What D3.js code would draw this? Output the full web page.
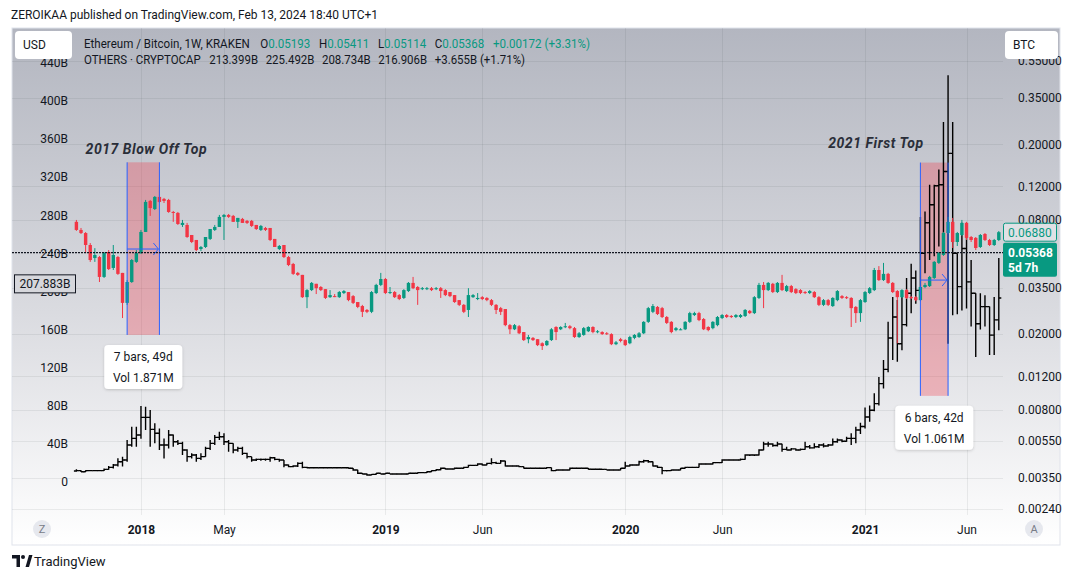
<!DOCTYPE html>
<html><head><meta charset="utf-8">
<script src="https://cdn.jsdelivr.net/npm/d3@7"></script>
<style>
html,body{margin:0;padding:0;background:#fff;}
svg{display:block;font-family:Roboto,"Noto Sans",sans-serif;}
</style></head><body>
<svg id="c" width="1072" height="579"></svg>
<script>
// ---------------- DATA ----------------
const startWeek = "2017-09-25"; // first weekly bar
const ethOpen = [
.0780,.0707,.0681,.0589,.0503,.0509,.0400,.0541,.0446,.0509,
.0420,.0292,.0376,.0480,.0534,.0690,.1005,.0911,.1055,.1030,
.1017,.0879,.0869,.0751,.0751,.0665,.0626,.0561,.0575,.0634,
.0707,.0733,.0828,.0848,.0838,.0780,.0808,.0789,.0789,.0751,
.0707,.0724,.0724,.0634,.0561,.0589,.0509,.0468,.0420,.0410,
.0313,.0341,.0368,.0354,.0345,.0313,.0317,.0313,.0329,.0333,
.0317,.0295,.0281,.0268,.0262,.0329,.0363,.0390,.0329,.0333,
.0321,.0310,.0337,.0372,.0354,.0345,.0345,.0349,.0345,.0349,
.0341,.0333,.0321,.0302,.0285,.0268,.0313,.0306,.0313,.0310,
.0302,.0285,.0274,.0271,.0223,.0212,.0220,.0205,.0188,.0191,
.0188,.0179,.0175,.0186,.0218,.0212,.0218,.0220,.0215,.0193,
.0198,.0207,.0218,.0205,.0205,.0202,.0200,.0177,.0188,.0186,
.0179,.0191,.0193,.0202,.0232,.0262,.0278,.0274,.0246,.0232,
.0210,.0212,.0212,.0232,.0252,.0258,.0240,.0218,.0215,.0223,
.0243,.0252,.0249,.0246,.0246,.0249,.0265,.0258,.0310,.0363,
.0341,.0368,.0333,.0372,.0337,.0358,.0345,.0341,.0333,.0329,
.0333,.0313,.0285,.0302,.0281,.0302,.0317,.0313,.0310,.0278,
.0258,.0295,.0329,.0341,.0435,.0385,.0415,.0372,.0337,.0313,
.0341,.0313,.0313,.0302,.0354,.0358,.0395,.0474,.0522,.0681,
.0780,.0611,.0665,.0770,.0649,.0642,.0575,.0673,.0626,.0589,
.0626];
const ethHigh = [
.0798,.0724,.0689,.0603,.0567,.0516,.0541,.0554,.0589,.0516,
.0420,.0385,.0497,.0554,.0707,.1017,.1017,.1067,.1220,.1042,
.1030,.0890,.0879,.0798,.0770,.0665,.0626,.0582,.0649,.0715,
.0751,.0848,.0858,.0858,.0848,.0818,.0818,.0798,.0798,.0751,
.0751,.0733,.0724,.0634,.0589,.0589,.0516,.0474,.0425,.0410,
.0345,.0376,.0368,.0358,.0345,.0341,.0325,.0337,.0341,.0333,
.0321,.0295,.0285,.0271,.0337,.0368,.0420,.0395,.0354,.0337,
.0325,.0345,.0376,.0400,.0358,.0354,.0354,.0354,.0354,.0354,
.0345,.0333,.0321,.0302,.0288,.0349,.0325,.0329,.0317,.0313,
.0306,.0288,.0278,.0271,.0226,.0226,.0223,.0205,.0198,.0193,
.0188,.0181,.0186,.0215,.0220,.0220,.0229,.0223,.0218,.0205,
.0218,.0220,.0220,.0210,.0207,.0205,.0202,.0184,.0191,.0188,
.0196,.0200,.0205,.0234,.0278,.0288,.0281,.0278,.0249,.0234,
.0218,.0215,.0234,.0262,.0262,.0262,.0243,.0220,.0234,.0249,
.0255,.0255,.0252,.0255,.0255,.0271,.0268,.0317,.0372,.0376,
.0376,.0372,.0376,.0410,.0363,.0363,.0349,.0345,.0337,.0341,
.0337,.0317,.0306,.0306,.0313,.0341,.0321,.0317,.0313,.0281,
.0306,.0337,.0354,.0446,.0456,.0474,.0420,.0376,.0341,.0345,
.0345,.0317,.0317,.0358,.0372,.0405,.0485,.0541,.0690,.0828,
.0818,.0690,.0798,.0780,.0657,.0649,.0673,.0681,.0634,.0634,
.0698];
const ethLow = [
.0699,.0673,.0534,.0480,.0480,.0376,.0395,.0435,.0435,.0410,
.0243,.0285,.0372,.0474,.0528,.0690,.0838,.0900,.0980,.0980,
.0870,.0780,.0751,.0733,.0642,.0603,.0547,.0547,.0568,.0626,
.0698,.0733,.0626,.0818,.0780,.0724,.0770,.0760,.0733,.0707,
.0698,.0698,.0618,.0575,.0554,.0503,.0456,.0410,.0405,.0310,
.0274,.0337,.0325,.0337,.0306,.0310,.0313,.0310,.0325,.0298,
.0288,.0274,.0246,.0258,.0258,.0325,.0358,.0325,.0325,.0310,
.0302,.0306,.0333,.0345,.0285,.0341,.0341,.0337,.0341,.0310,
.0317,.0313,.0292,.0281,.0258,.0246,.0310,.0302,.0302,.0298,
.0281,.0255,.0252,.0220,.0200,.0210,.0200,.0184,.0179,.0184,
.0173,.0165,.0173,.0184,.0186,.0210,.0215,.0212,.0191,.0191,
.0196,.0205,.0202,.0202,.0198,.0198,.0175,.0175,.0181,.0173,
.0177,.0188,.0191,.0200,.0229,.0258,.0252,.0243,.0226,.0202,
.0207,.0210,.0210,.0229,.0249,.0234,.0210,.0207,.0212,.0220,
.0240,.0243,.0243,.0243,.0243,.0246,.0255,.0255,.0306,.0274,
.0337,.0329,.0329,.0337,.0333,.0329,.0325,.0325,.0325,.0325,
.0310,.0281,.0281,.0281,.0278,.0298,.0306,.0306,.0218,.0229,
.0232,.0292,.0325,.0337,.0381,.0381,.0368,.0329,.0179,.0310,
.0306,.0306,.0298,.0298,.0349,.0354,.0390,.0468,.0516,.0673,
.0568,.0582,.0657,.0626,.0611,.0554,.0568,.0618,.0582,.0582,
.0618];
const ethClose = [
.0707,.0681,.0589,.0491,.0522,.0400,.0534,.0440,.0522,.0415,
.0292,.0376,.0491,.0534,.0690,.0993,.0922,.1055,.0993,.1005,
.0879,.0869,.0760,.0770,.0649,.0611,.0554,.0575,.0649,.0715,
.0733,.0828,.0848,.0828,.0780,.0818,.0770,.0770,.0742,.0715,
.0742,.0707,.0626,.0575,.0582,.0509,.0462,.0415,.0410,.0313,
.0341,.0372,.0349,.0341,.0310,.0321,.0316,.0333,.0337,.0302,
.0292,.0278,.0262,.0262,.0333,.0363,.0390,.0329,.0333,.0313,
.0306,.0341,.0372,.0349,.0341,.0349,.0349,.0341,.0349,.0337,
.0321,.0317,.0295,.0285,.0262,.0321,.0321,.0310,.0306,.0302,
.0285,.0268,.0262,.0223,.0212,.0223,.0202,.0186,.0193,.0186,
.0175,.0173,.0184,.0212,.0205,.0218,.0220,.0215,.0193,.0202,
.0215,.0218,.0205,.0207,.0200,.0200,.0177,.0181,.0184,.0175,
.0193,.0198,.0202,.0232,.0274,.0281,.0255,.0246,.0229,.0205,
.0215,.0212,.0232,.0258,.0258,.0237,.0212,.0210,.0232,.0246,
.0252,.0246,.0246,.0252,.0252,.0268,.0258,.0313,.0363,.0341,
.0372,.0333,.0372,.0341,.0358,.0333,.0329,.0329,.0329,.0337,
.0313,.0285,.0302,.0285,.0310,.0337,.0310,.0310,.0274,.0258,
.0302,.0333,.0349,.0435,.0385,.0415,.0372,.0333,.0313,.0341,
.0310,.0310,.0302,.0354,.0363,.0400,.0480,.0534,.0681,.0780,
.0611,.0681,.0770,.0642,.0626,.0568,.0665,.0626,.0589,.0626,
.0688];

// OTHERS (billions USD), weekly OHLC
const othOpen = [
11.2,11.6,10.5,11.6,11.6,11.6,11.6,13.0,15.1,17.5,
21.0,22.8,38.5,45.5,49.0,67.6,67.6,55.0,50.9,38.5,
38.5,49.0,42.0,40.3,33.3,26.3,28.0,24.5,26.3,35.0,
40.3,46.6,47.3,42.0,40.3,33.3,35.0,29.8,26.3,22.8,
23.5,23.5,23.5,25.2,23.5,22.8,17.5,15.8,16.5,19.3,
15.1,14.7,14.7,14.7,14.7,14.7,14.7,14.7,14.7,14.7,
14.1,12.3,8.8,8.1,7.0,7.7,8.8,8.1,8.8,8.1,
8.1,8.1,8.1,8.8,8.8,9.5,9.5,10.5,11.6,12.5,
14.1,13.4,13.4,14.1,14.1,15.1,17.2,17.2,18.6,17.5,
19.3,20.0,19.3,21.8,16.5,16.5,16.5,15.8,14.1,14.1,
14.1,14.1,14.1,14.8,11.6,12.3,12.3,12.3,14.1,14.1,
14.1,14.1,13.1,13.1,13.1,13.0,12.3,12.3,12.3,14.1,
16.5,17.5,17.5,21.0,22.0,21.0,16.5,15.1,11.6,11.6,
12.3,12.3,14.1,15.1,15.1,15.1,18.6,18.6,18.6,20.0,
20.0,22.8,22.8,22.8,22.8,23.5,28.0,28.0,28.0,33.3,
39.6,39.6,38.0,39.6,34.0,33.3,34.5,33.3,34.0,36.8,
35.5,36.8,38.5,37.5,38.5,42.0,43.8,42.5,45.5,45.5,
54.3,58.0,68.0,75.0,82.0,103,118,151,173,145,
165,198,214,201,240,272,291,311,312,326,
345,240,205,245,210,198,166,184,184,154,
170];
const othHigh = [
13.0,12.0,12.0,12.3,12.3,12.3,14.0,16.5,18.6,24.6,
26.3,43.8,57.8,57.8,79.5,78.8,75.3,61.4,56.0,45.5,
54.3,49.5,43.8,42.0,34.0,29.8,29.0,29.8,36.8,43.8,
49.0,52.6,50.9,43.8,40.3,36.8,36.8,30.5,26.3,24.5,
24.5,24.5,26.3,26.0,24.0,22.8,18.0,17.2,20.5,21.0,
15.8,15.5,15.5,15.3,15.5,15.3,15.5,15.3,15.5,15.1,
14.5,12.5,9.2,8.5,8.1,9.2,9.0,9.2,9.0,8.8,
8.8,8.8,9.2,9.2,10.0,10.0,11.0,12.0,13.0,14.8,
14.5,14.0,14.8,14.8,15.8,17.9,17.9,19.3,19.0,19.8,
24.6,21.0,22.8,22.0,17.2,17.2,16.8,16.0,14.8,14.8,
14.8,14.8,15.5,15.0,12.8,12.8,12.8,14.8,14.8,14.8,
14.8,14.3,13.8,13.8,13.5,13.2,12.8,12.8,14.5,21.0,
18.3,18.3,22.0,23.0,22.8,21.3,17.0,15.5,12.3,12.8,
12.8,14.5,15.8,15.8,15.8,19.3,19.3,19.3,20.5,20.5,
23.5,23.5,23.5,23.5,24.5,28.8,28.8,28.8,34.0,42.0,
42.0,40.3,42.0,40.0,36.8,35.5,35.0,35.0,42.0,38.5,
40.3,39.6,40.3,39.6,45.5,45.5,44.5,47.3,50.9,57.8,
62.0,78.0,80.0,93.0,110,128,168,194,191,201,
214,229,222,278,284,312,312,328,378,427,
378,240,272,272,233,198,198,196,184,194,
235];
const othLow = [
10.5,10.2,10.3,11.0,11.0,11.0,11.3,12.5,14.0,16.0,
16.0,21.0,36.8,36.8,45.0,54.3,36.8,40.3,33.3,24.5,
35.0,36.8,38.5,28.0,21.0,24.5,21.0,22.8,26.3,33.3,
38.5,43.8,38.5,31.5,29.8,31.5,28.0,24.5,21.0,21.8,
22.0,22.0,21.0,22.5,21.0,15.1,15.1,15.1,15.5,14.1,
14.1,14.0,14.1,14.0,14.1,14.0,14.1,14.0,14.1,13.5,
11.6,8.1,7.7,6.3,6.7,7.4,7.7,7.7,7.7,7.7,
7.7,7.7,7.7,8.4,8.4,9.0,9.2,10.2,11.3,12.0,
12.8,12.8,13.0,13.5,13.8,14.8,16.5,16.8,17.0,17.2,
18.0,18.6,19.0,16.0,15.8,15.8,15.1,13.8,13.5,13.5,
13.5,13.5,13.8,11.0,11.2,11.8,11.8,12.0,13.5,13.5,
13.5,12.8,12.6,12.6,12.6,11.9,11.9,11.9,12.0,13.8,
16.0,16.8,17.0,20.0,20.0,16.0,14.5,7.7,10.8,11.2,
11.8,12.0,13.8,14.5,14.5,14.8,17.9,17.9,18.0,19.3,
19.6,22.0,22.0,22.0,22.3,23.0,27.0,27.0,27.5,33.0,
36.8,36.8,37.0,31.5,33.0,32.8,32.5,32.8,33.5,34.5,
35.0,35.5,36.0,36.8,38.0,41.0,41.5,42.0,38.5,40.3,
50.0,56.0,63.0,74.0,80.0,98,115,128,126,138,
163,177,187,191,219,233,237,247,242,145,
175,176,180,182,163,131,160,163,133,133,
159];
const othClose = [
11.6,10.5,11.6,11.6,11.6,11.6,13.0,15.1,17.5,21.0,
22.8,38.5,45.5,49.0,67.6,67.6,55.0,50.9,38.5,38.5,
49.0,42.0,40.3,33.3,26.3,28.0,24.5,26.3,35.0,40.3,
46.6,47.3,42.0,40.3,33.3,35.0,29.8,26.3,22.8,23.5,
23.5,23.5,25.2,23.5,22.8,17.5,15.8,16.5,19.3,15.1,
14.7,14.7,14.7,14.7,14.7,14.7,14.7,14.7,14.7,14.1,
12.3,8.8,8.1,7.0,7.7,8.8,8.1,8.8,8.1,8.1,
8.1,8.1,8.8,8.8,9.5,9.5,10.5,11.6,12.5,14.1,
13.4,13.4,14.1,14.1,15.1,17.2,17.2,18.6,17.5,19.3,
20.0,19.3,21.8,16.5,16.5,16.5,15.8,14.1,14.1,14.1,
14.1,14.1,14.8,11.6,12.3,12.3,12.3,14.1,14.1,14.1,
14.1,13.1,13.1,13.1,13.0,12.3,12.3,12.3,14.1,16.5,
17.5,17.5,21.0,22.0,21.0,16.5,15.1,11.6,11.6,12.3,
12.3,14.1,15.1,15.1,15.1,18.6,18.6,18.6,20.0,20.0,
22.8,22.8,22.8,22.8,23.5,28.0,28.0,28.0,33.3,39.6,
39.6,38.0,39.6,34.0,33.3,34.5,33.3,34.0,36.8,35.5,
36.8,38.5,37.5,38.5,42.0,43.8,42.5,45.5,45.5,54.3,
58.0,68.0,75.0,82.0,103,118,151,173,145,165,
198,214,201,240,272,291,311,312,326,345,
240,205,245,210,198,166,184,184,154,170,
193];

const rightTicks = [0.55,0.35,0.2,0.12,0.08,0.035,0.02,0.012,0.008,0.0055,0.0035,0.0024];
const leftTicks = [0,40,80,120,160,200,240,280,320,360,400,440];
const timeTicks = ["2018-01-01","2018-05-07","2019-01-07","2019-06-03","2020-01-06","2020-06-01","2021-01-04","2021-06-07"];
const timeTickLabels = ["2018","May","2019","Jun","2020","Jun","2021","Jun"];
const timeTickIsYear = [true,false,true,false,true,false,true,false];

const ethLast = 0.05368, ethVisibleLast = 0.06880, othMarker = 207.883;
const ranges = [
  {from:"2017-12-11", to:"2018-01-29", top:0.1605, bottom:0.0198, arrow:0.0561, lines:["7 bars, 49d","Vol 1.871M"]},
  {from:"2021-03-29", to:"2021-05-10", top:0.160, bottom:0.00946, arrow:0.0385, lines:["6 bars, 42d","Vol 1.061M"]}
];
const notes = [
  {text:"2017 Blow Off Top", x:"2017-10-09", price:0.178, len:122},
  {text:"2021 First Top", x:"2020-11-09", price:0.19, len:96}
];
const legendLine1 = [
  ["Ethereum / Bitcoin, 1W, KRAKEN","t",0],["O","t",11],["0.05193","g",0],["H","t",9],["0.05411","g",0],
  ["L","t",9],["0.05114","g",0],["C","t",9],["0.05368","g",0],["+0.00172 (+3.31%)","g",9]
];
const legendLine2 = [
  ["OTHERS · CRYPTOCAP","t",0],["213.399B","t",9],["225.492B","t",8],["208.734B","t",8],["216.906B","t",8],["+3.655B (+1.71%)","t",8]
];

// ---------------- DRAW ----------------
const svg = d3.select('#c');
const defs = svg.append('defs');
const grad = defs.append('linearGradient').attr('id','bg').attr('x1',0).attr('y1',0).attr('x2',0).attr('y2',1);
grad.append('stop').attr('offset','0%').attr('stop-color','#b3b6c0');
grad.append('stop').attr('offset','55%').attr('stop-color','#dadbe0');
grad.append('stop').attr('offset','100%').attr('stop-color','#ffffff');
defs.append('clipPath').attr('id','clip').append('rect').attr('x',12).attr('y',28).attr('width',991).attr('height',487);
const sh = defs.append('filter').attr('id','shadow').attr('x','-20%').attr('y','-20%').attr('width','140%').attr('height','150%');
sh.append('feDropShadow').attr('dx',0).attr('dy',1).attr('stdDeviation',1.5).attr('flood-color','#000').attr('flood-opacity',0.18);

const FONT = 'Roboto, "Noto Sans", sans-serif';
const TXT = '#131722';
const UP = '#089981', DN = '#f23645';

// page title
svg.append('text').attr('x',11).attr('y',19).attr('font-size',13).attr('fill',TXT)
  .attr('textLength',367).attr('lengthAdjust','spacingAndGlyphs')
  .text('ZEROIKAA published on TradingView.com, Feb 13, 2024 18:40 UTC+1');

// panel
svg.append('rect').attr('x',12).attr('y',28).attr('width',1048).attr('height',517)
  .attr('fill','url(#bg)').attr('stroke','#e0e3eb');

const dates = d3.range(ethClose.length).map(i => d3.utcDay.offset(new Date(startWeek+'T00:00:00Z'), 7*i));
const x = d3.scaleUtc().domain([dates[0], dates[dates.length-1]]).range([76.4, 998.8]);
const yR = d3.scaleLog().domain([0.35, 0.0024]).range([98, 509]);
const yL = d3.scaleLinear().domain([0, 400]).range([481.7, 101]);
const pd = s => new Date(s+'T00:00:00Z');

const plot = svg.append('g').attr('clip-path','url(#clip)');
// grid
plot.append('g').selectAll('line').data(timeTicks).join('line')
  .attr('x1',d=>Math.round(x(pd(d)))+0.5).attr('x2',d=>Math.round(x(pd(d)))+0.5)
  .attr('y1',28).attr('y2',515).attr('stroke','rgba(42,46,57,0.08)');
plot.append('g').selectAll('line').data(rightTicks).join('line')
  .attr('x1',12).attr('x2',1003).attr('y1',d=>Math.round(yR(d))+0.5).attr('y2',d=>Math.round(yR(d))+0.5)
  .attr('stroke','rgba(42,46,57,0.08)');

// range fills
const rg = plot.append('g');
ranges.forEach(r => {
  const x1 = x(pd(r.from)), x2 = x(pd(r.to));
  rg.append('rect').attr('x',x1).attr('y',yR(r.top)).attr('width',x2-x1).attr('height',yR(r.bottom)-yR(r.top))
    .attr('fill','rgba(242,54,69,0.30)');
});

// OTHERS OHLC bars
const oth = dates.map((d,i)=>({d, o:othOpen[i], h:othHigh[i], l:othLow[i], c:othClose[i]}));
plot.append('g').attr('fill','none').attr('stroke','#000').attr('stroke-width',1.4)
  .selectAll('path').data(oth).join('path')
  .attr('d', d => { const cx = x(d.d);
    return `M${cx},${yL(d.h)}V${yL(d.l)}M${cx-2.5},${yL(d.o)}H${cx}M${cx},${yL(d.c)}H${cx+2.5}`; });

// ETH/BTC candles
const eth = dates.map((d,i)=>({d, o:ethOpen[i], h:ethHigh[i], l:ethLow[i], c:ethClose[i]}));
const cg = plot.append('g');
cg.selectAll('line').data(eth).join('line')
  .attr('x1',d=>x(d.d)).attr('x2',d=>x(d.d)).attr('y1',d=>yR(d.h)).attr('y2',d=>yR(d.l))
  .attr('stroke',d=>d.c>=d.o?UP:DN).attr('stroke-width',1);
cg.selectAll('rect').data(eth).join('rect')
  .attr('x',d=>x(d.d)-1.7).attr('width',3.4)
  .attr('y',d=>yR(Math.max(d.o,d.c)))
  .attr('height',d=>Math.max(1, Math.abs(yR(d.o)-yR(d.c))))
  .attr('fill',d=>d.c>=d.o?UP:DN);

// range borders + arrows
ranges.forEach(r => {
  const x1 = x(pd(r.from)), x2 = x(pd(r.to)), yt = yR(r.top), yb = yR(r.bottom), ya = yR(r.arrow);
  [x1,x2].forEach(xx => plot.append('line').attr('x1',xx).attr('x2',xx).attr('y1',yt).attr('y2',yb)
    .attr('stroke','#2962ff').attr('stroke-width',1));
  plot.append('path').attr('d',`M${x1},${ya}H${x2-1}M${x2-6},${ya-6}L${x2-1},${ya}L${x2-6},${ya+6}`)
    .attr('fill','none').attr('stroke','#2962ff').attr('stroke-width',1);
});

// current price line
plot.append('line').attr('x1',12).attr('x2',1003).attr('y1',yR(ethLast)).attr('y2',yR(ethLast))
  .attr('stroke','#131722').attr('stroke-width',1.2).attr('stroke-dasharray','2 1');

// annotation texts
notes.forEach(n => {
  svg.append('text').attr('x',x(pd(n.x))).attr('y',yR(n.price)).attr('font-size',14)
    .attr('font-weight','bold').attr('font-style','italic').attr('fill','#2a2e39')
    .attr('textLength',n.len).attr('lengthAdjust','spacing').attr('letter-spacing',1).text(n.text);
});

// range label boxes
ranges.forEach(r => {
  const cx = (x(pd(r.from))+x(pd(r.to)))/2, top = yR(r.bottom)+10;
  const g = svg.append('g');
  g.append('rect').attr('x',cx-39).attr('y',top).attr('width',78).attr('height',44).attr('rx',4)
    .attr('fill','#fff').attr('filter','url(#shadow)');
  r.lines.forEach((t,i) => g.append('text').attr('x',cx).attr('y',top+16+i*21).attr('text-anchor','middle')
    .attr('font-size',12).attr('fill',TXT).text(t));
});

// right axis
const ra = svg.append('g').attr('transform','translate(1003,0)')
  .call(d3.axisRight(yR).tickValues(rightTicks).tickFormat(d3.format('.5f')).tickSize(0).tickPadding(15));
ra.select('.domain').remove();
ra.selectAll('text').attr('font-size',12).attr('font-family',FONT).attr('fill','#131722');

// left axis
const la = svg.append('g').attr('transform','translate(75,0)')
  .call(d3.axisLeft(yL).tickValues(leftTicks).tickFormat(d=>d===0?'0':d+'B').tickSize(0).tickPadding(7));
la.select('.domain').remove();
la.selectAll('text').attr('font-size',12).attr('font-family',FONT).attr('fill','#131722');

// bottom axis
const ba = svg.append('g').attr('transform','translate(0,515)')
  .call(d3.axisBottom(x).tickValues(timeTicks.map(pd)).tickFormat((d,i)=>timeTickLabels[i]).tickSize(0).tickPadding(10));
ba.select('.domain').remove();
ba.selectAll('text').attr('font-size',12).attr('font-family',FONT).attr('fill','#131722')
  .attr('font-weight',(d,i)=>timeTickIsYear[i]?'bold':'normal');

// price labels on right
const y688 = yR(ethVisibleLast);
svg.append('rect').attr('x',1003.5).attr('y',y688-9).attr('width',53).attr('height',18).attr('rx',2)
  .attr('fill','rgba(255,255,255,0.35)').attr('stroke',UP);
svg.append('text').attr('x',1008).attr('y',y688+4.5).attr('font-size',12).attr('fill',UP).text(d3.format('.5f')(ethVisibleLast));
const yl = yR(ethLast);
svg.append('rect').attr('x',1003).attr('y',yl-10).attr('width',54).attr('height',34).attr('rx',2).attr('fill',UP);
svg.append('text').attr('x',1008).attr('y',yl+4.5).attr('font-size',12).attr('font-weight','bold').attr('fill','#fff').text(d3.format('.5f')(ethLast));
svg.append('text').attr('x',1008).attr('y',yl+19).attr('font-size',12).attr('font-weight','bold').attr('fill','#fff').text('5d 7h');

// left marker label
const yo = yL(othMarker);
svg.append('rect').attr('x',14.5).attr('y',yo-9).attr('width',61).attr('height',18)
  .attr('fill','#d6d7dc').attr('stroke','#131722');
svg.append('text').attr('x',45).attr('y',yo+4.5).attr('text-anchor','middle').attr('font-size',12).attr('fill',TXT)
  .text(d3.format('.3f')(othMarker)+'B');

// currency boxes
[[15,57,'USD'],[1005,53,'BTC']].forEach(([bx,bw,t]) => {
  svg.append('rect').attr('x',bx).attr('y',31).attr('width',bw).attr('height',28).attr('rx',4).attr('fill','#fff');
  svg.append('text').attr('x',bx+8).attr('y',49).attr('font-size',12).attr('fill',TXT).text(t);
});

// legend (single text per line, coloured tspans)
function legend(parts, y, len) {
  const t = svg.append('text').attr('x',84).attr('y',y).attr('font-size',12)
    .attr('textLength',len).attr('lengthAdjust','spacingAndGlyphs');
  parts.forEach(([s,c,dx]) => t.append('tspan').attr('dx',dx).attr('fill',c==='g'?UP:TXT).text(s));
}
legend(legendLine1, 47.5, 506);
legend(legendLine2, 63.5, 441);

// Z / A buttons
[[42,'Z'],[1034,'A']].forEach(([cx,t]) => {
  svg.append('circle').attr('cx',cx).attr('cy',529).attr('r',9).attr('fill','#e6e8ee');
  svg.append('text').attr('x',cx).attr('y',533).attr('text-anchor','middle').attr('font-size',11).attr('fill','#787b86').text(t);
});

// TradingView logo
const lg = svg.append('g').attr('fill','#131722');
lg.append('path').attr('d','M12,555H20V567H16.5V558.5H12Z');
lg.append('circle').attr('cx',23).attr('cy',557).attr('r',2);
lg.append('path').attr('d','M25.5,567L29,555H32.5L29,567Z');
svg.append('text').attr('x',34).attr('y',566).attr('font-size',13).attr('fill',TXT).text('TradingView');
</script>
</body></html>
